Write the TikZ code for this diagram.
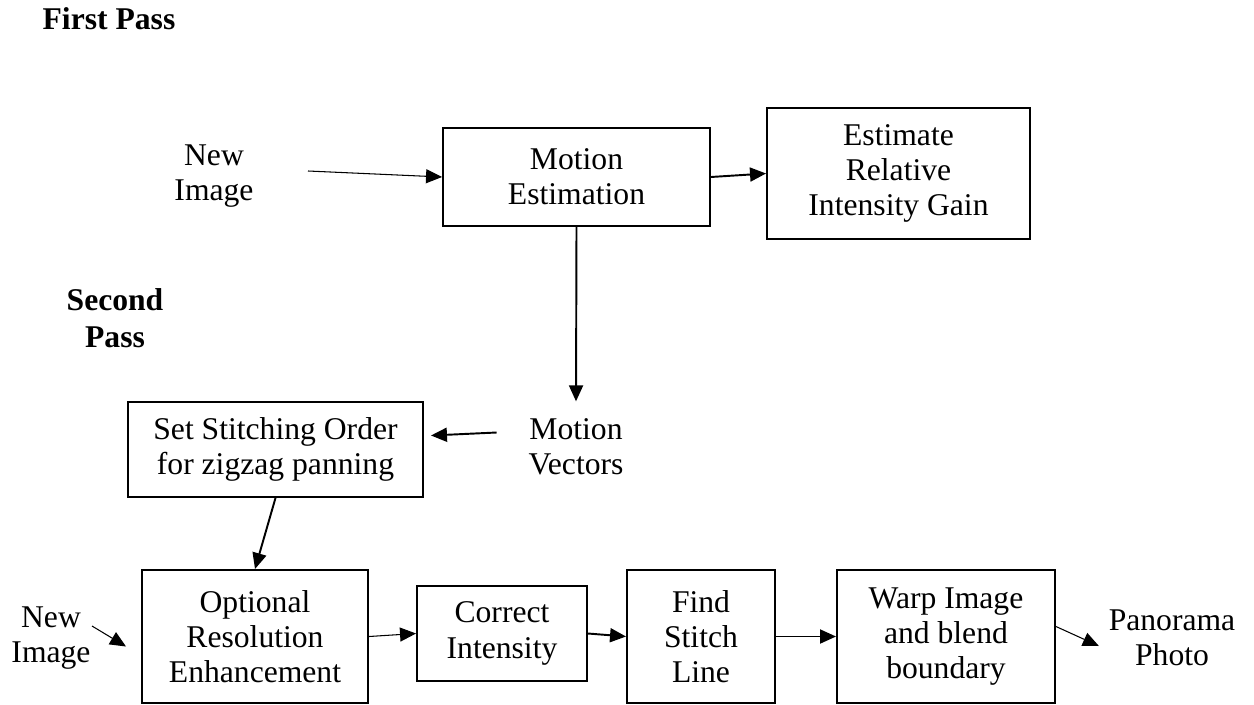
\documentclass[tikz,border=0pt]{standalone}
\usepackage{fontspec}
\setmainfont{Liberation Serif}
\usetikzlibrary{arrows.meta}

\begin{document}
\begin{tikzpicture}[
        every node/.style={font=\fontsize{18pt}{20pt}\selectfont, align=center, inner sep=2pt},
        block/.style={draw, line width=1.1pt, inner sep=0pt},
        pass label/.style={font=\fontsize{18pt}{21pt}\selectfont\bfseries},
        thick arrow/.style={line width=1.1pt, -{Triangle[length=0.32cm,width=0.28cm]}},
        thin arrow/.style={line width=0.6pt, -{Triangle[length=0.32cm,width=0.28cm]}}]
        \useasboundingbox (0,0) rectangle (25.08,-14.08);

        % first pass
        \node[pass label] (first) at (2.18,-0.38) {First Pass};
        \node (new1) at (4.28,-3.52) {New\\Image};
        \node[block, minimum width=5.34cm, minimum height=1.96cm] (mot)  at (11.53,-3.54) {Motion\\Estimation};
        \node[block, minimum width=5.26cm, minimum height=2.62cm] (gain) at (17.97,-3.47) {Estimate\\Relative\\Intensity Gain};
        \node (vec) at (11.52,-8.93) {Motion\\Vectors};

        % second pass
        \node[pass label] (second) at (2.30,-6.37) {Second\\Pass};
        \node[block, minimum width=5.90cm, minimum height=1.90cm] (order) at (5.51,-8.99)  {Set Stitching Order\\for zigzag panning};
        \node (new2) at (1.02,-12.76) {New\\Image};
        \node[block, minimum width=4.52cm, minimum height=2.66cm] (opt)   at (5.10,-12.73) {Optional\\Resolution\\Enhancement};
        \node[block, minimum width=3.40cm, minimum height=1.90cm] (corr)  at (10.04,-12.67) {Correct\\Intensity};
        \node[block, minimum width=2.96cm, minimum height=2.66cm] (find)  at (14.02,-12.73) {Find\\Stitch\\Line};
        \node[block, minimum width=4.36cm, minimum height=2.66cm] (warp)  at (18.92,-12.73) {Warp Image\\and blend\\boundary};
        \node (pano) at (23.44,-12.76) {Panorama\\Photo};

        % connectors
        \coordinate (n1out) at (6.16,-3.42);
        \coordinate (n2out) at (1.84,-12.52);
        \draw[thin arrow]  (n1out) -- (mot.west);
        \draw[thick arrow] (mot.east) -- (gain.west);
        \draw[thick arrow] (mot.south) -- ([yshift=0.26cm]vec.north);
        \draw[thick arrow] ([xshift=-0.56cm,yshift=0.28cm]vec.west) -- ([shift={(0.14cm,0.28cm)}]order.east);
        \draw[thick arrow] (order.south) -- (opt.north);
        \draw[thin arrow]  (n2out) -- ([shift={(-0.3cm,-0.2cm)}]opt.west);
        \draw[thin arrow]  (opt.east) -- (corr.west);
        \draw[thick arrow] (corr.east) -- (find.west);
        \draw[thick arrow] (find.east) -- (warp.west);
        \draw[thin arrow]  ([yshift=0.2cm]warp.east) -- ([shift={(-0.12cm,-0.16cm)}]pano.west);
\end{tikzpicture}
\end{document}
